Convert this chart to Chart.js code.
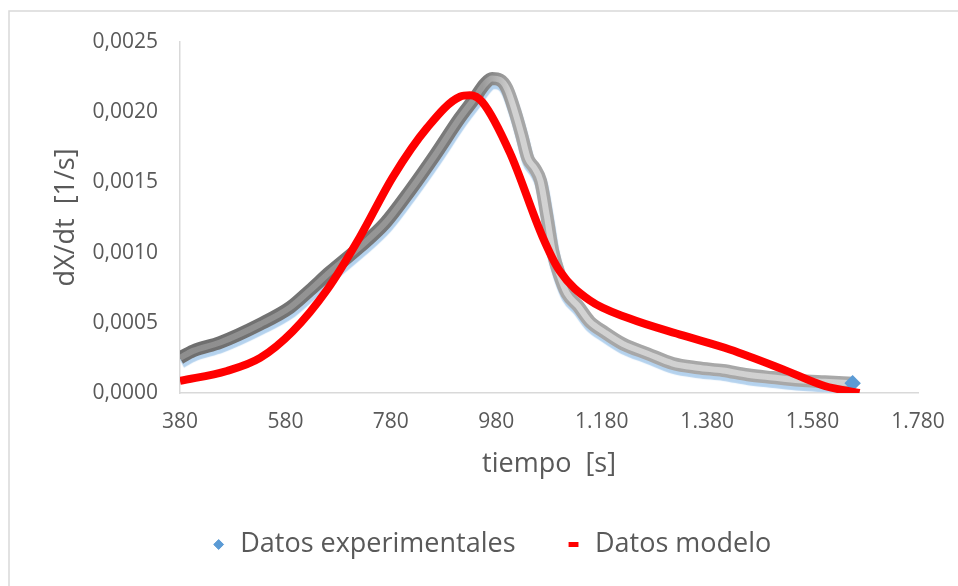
<!DOCTYPE html>
<html>
<head>
<meta charset="utf-8">
<script src="https://cdn.jsdelivr.net/npm/chart.js@4/dist/chart.umd.min.js"></script>
<style>
  html, body { margin: 0; padding: 0; background: #fff; }
  canvas { display: block; }
</style>
</head>
<body>
<canvas id="curvaDxdt" width="958" height="586"></canvas>
<script>
// curva experimental dX/dt frente al tiempo
var tiempoExp = [380, 405, 456, 532, 589, 626, 664, 721, 769, 816, 863, 911, 939, 958, 972, 987,
                 1000, 1015, 1028, 1040, 1053, 1064, 1076, 1087, 1100, 1114, 1135, 1157, 1186, 1220,
                 1267, 1315, 1362, 1410, 1457, 1504, 1555, 1603, 1656];
var dxdtExp = [0.00025, 0.00030, 0.00036, 0.00049, 0.00061, 0.00073, 0.00086, 0.00104, 0.00121, 0.00144,
               0.00169, 0.00196, 0.00210, 0.00220, 0.00224, 0.00223, 0.00217, 0.00201, 0.00184, 0.00167,
               0.00160, 0.00151, 0.00126, 0.00101, 0.00084, 0.00071, 0.00062, 0.00051, 0.00043, 0.00035,
               0.00028, 0.00021, 0.00018, 0.00016, 0.00013, 0.00011, 0.00009, 0.00008, 0.00007];

// curva del modelo
var tiempoMod = [380, 469, 532, 594, 658, 721, 784, 849, 911, 930, 954, 1006, 1068, 1100, 1157,
                 1233, 1334, 1423, 1523, 1603, 1669];
var dxdtMod = [0.000086, 0.000157, 0.00025, 0.00044, 0.00073, 0.00111, 0.00154, 0.00189, 0.00211, 0.00212,
               0.00207, 0.00171, 0.00111, 0.00087, 0.00066, 0.00053, 0.00041, 0.00031, 0.00017, 0.00005, 0.0];

var xTicks = [380, 580, 780, 980, 1180, 1380, 1580, 1780];
var xTickLabels = ['380', '580', '780', '980', '1.180', '1.380', '1.580', '1.780'];
var yTicks = [0, 0.0005, 0.0010, 0.0015, 0.0020, 0.0025];
var yTickLabels = ['0,0000', '0,0005', '0,0010', '0,0015', '0,0020', '0,0025'];

var seriesNames = ['Datos experimentales', 'Datos modelo'];

function puntos(xs, ys) {
    return xs.map(function (x, i) { return { x: x, y: ys[i] }; });
}

// degradado horizontal para la banda gris (más oscura en la subida)
function degradado(stops) {
    return function (c) {
        var area = c.chart.chartArea;
        if (!area) return stops[0][1];
        var g = c.chart.ctx.createLinearGradient(area.left, 0, area.right, 0);
        stops.forEach(function (s) { g.addColorStop(s[0], s[1]); });
        return g;
    };
}

var textoGris = '#595959';
var fuente = 'Open Sans';
var ultimo = tiempoExp.length - 1;

// sombra azul bajo la banda experimental + marco exterior
var efectos = {
    id: 'efectos',
    beforeDraw: function (chart) {
        var ctx = chart.ctx;
        ctx.save();
        ctx.strokeStyle = '#d9d9d9';
        ctx.lineWidth = 1.5;
        ctx.beginPath();
        ctx.moveTo(9, chart.height);
        ctx.lineTo(9, 11);
        ctx.lineTo(chart.width, 11);
        ctx.stroke();
        ctx.restore();
    },
    beforeDatasetDraw: function (chart, args) {
        if (args.index !== 0) return;
        var ctx = chart.ctx;
        ctx.save();
        ctx.shadowColor = '#b4d2ee';
        ctx.shadowOffsetX = 1;
        ctx.shadowOffsetY = 4;
        ctx.shadowBlur = 1;
    },
    afterDatasetDraw: function (chart, args) {
        if (args.index === 0) chart.ctx.restore();
    }
};

var ctx = document.getElementById('curvaDxdt').getContext('2d');

var grafico = new Chart(ctx, {
    type: 'scatter',
    data: {
        datasets: [{
            label: seriesNames[0],
            data: puntos(tiempoExp, dxdtExp),
            showLine: true,
            cubicInterpolationMode: 'monotone',
            borderWidth: 13,
            borderColor: degradado([[0, '#6e6e6e'], [0.41, '#7c7c7c'], [0.45, '#a6a6a6'], [1, '#a9a9a9']]),
            pointRadius: 0,
            order: 2
        }, {
            label: 'brillo',
            data: puntos(tiempoExp, dxdtExp),
            showLine: true,
            cubicInterpolationMode: 'monotone',
            borderWidth: 6,
            borderColor: degradado([[0, '#8e8e8e'], [0.41, '#9a9a9a'], [0.45, '#d2d2d2'], [1, '#d0d0d0']]),
            pointStyle: 'rectRot',
            pointRadius: function (c) { return c.dataIndex === ultimo ? 4 : 0; },
            pointBackgroundColor: '#5b9bd5',
            pointBorderColor: '#5b9bd5',
            order: 1
        }, {
            label: seriesNames[1],
            data: puntos(tiempoMod, dxdtMod),
            showLine: true,
            cubicInterpolationMode: 'monotone',
            borderWidth: 8,
            borderColor: '#ff0000',
            pointRadius: 0,
            order: 0
        }]
    },
    options: {
        responsive: false,
        animation: false,
        layout: { padding: { left: 24, right: 0, top: 42, bottom: 18 } },
        scales: {
            x: {
                type: 'linear',
                min: xTicks[0],
                max: xTicks[xTicks.length - 1],
                afterBuildTicks: function (scale) {
                    scale.ticks = xTicks.map(function (v) { return { value: v }; });
                },
                afterFit: function (scale) {
                    scale.height = 88;
                    scale.paddingRight = 40;
                },
                grid: { display: false, drawTicks: false },
                border: { display: true, color: '#d9d9d9', width: 1.5 },
                ticks: {
                    padding: 16,
                    color: textoGris,
                    font: { family: fuente, size: 21 },
                    callback: function (v) { return xTickLabels[xTicks.indexOf(v)]; }
                },
                title: {
                    display: true,
                    text: 'tiempo  [s]',
                    color: textoGris,
                    font: { family: fuente, size: 27 },
                    padding: { top: 0, bottom: 0 }
                }
            },
            y: {
                min: 0,
                max: 0.0025,
                afterBuildTicks: function (scale) {
                    scale.ticks = yTicks.map(function (v) { return { value: v }; });
                },
                afterFit: function (scale) { scale.width = 156; },
                grid: { display: false, drawTicks: false },
                border: { display: true, color: '#d9d9d9', width: 1.5 },
                ticks: {
                    padding: 22,
                    color: textoGris,
                    font: { family: fuente, size: 21 },
                    callback: function (v) { return yTickLabels[yTicks.indexOf(v)]; }
                },
                title: {
                    display: true,
                    text: 'dX/dt  [1/s]',
                    color: textoGris,
                    font: { family: fuente, size: 27 },
                    padding: { top: 26, bottom: 0 }
                }
            }
        },
        plugins: {
            tooltip: { enabled: false },
            legend: {
                position: 'bottom',
                labels: {
                    usePointStyle: true,
                    boxWidth: 16,
                    boxHeight: 7,
                    padding: 50,
                    color: textoGris,
                    font: { family: fuente, size: 27 },
                    generateLabels: function (chart) {
                        return [{
                            text: seriesNames[0],
                            pointStyle: 'rectRot',
                            fillStyle: '#5b9bd5',
                            strokeStyle: '#5b9bd5',
                            lineWidth: 1,
                            fontColor: textoGris,
                            datasetIndex: 0
                        }, {
                            text: seriesNames[1],
                            pointStyle: 'line',
                            fillStyle: '#ff0000',
                            strokeStyle: '#ff0000',
                            lineWidth: 5,
                            fontColor: textoGris,
                            datasetIndex: 2
                        }];
                    }
                }
            }
        }
    },
    plugins: [efectos]
});
</script>
</body>
</html>
